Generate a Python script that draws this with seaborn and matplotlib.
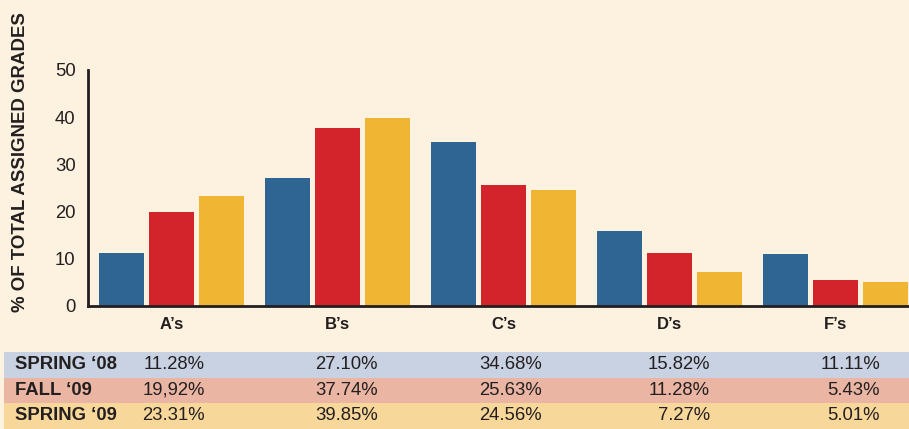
import pandas as pd
import matplotlib.pyplot as plt
import seaborn as sns
from matplotlib.patches import Rectangle

# chart data
grades = ["A’s", "B’s", "C’s", "D’s", "F’s"]
terms = ["SPRING ‘08", "FALL ‘09", "SPRING ‘09"]
spring08 = [11.28, 27.10, 34.68, 15.82, 11.11]
fall09 = [19.92, 37.74, 25.63, 11.28, 5.43]
spring09 = [23.31, 39.85, 24.56, 7.27, 5.01]

# table text as printed (note the comma in 19,92%)
spring08_txt = ["11.28%", "27.10%", "34.68%", "15.82%", "11.11%"]
fall09_txt = ["19,92%", "37.74%", "25.63%", "11.28%", "5.43%"]
spring09_txt = ["23.31%", "39.85%", "24.56%", "7.27%", "5.01%"]

bar_colors = ["#2F6592", "#D2242A", "#F0B533"]
row_colors = ["#C9D2E3", "#EBB5A3", "#F8D89A"]
bg = "#FDF2DF"
ink = "#231F20"

df = pd.DataFrame({
    "grade": grades * 3,
    "term": [t for t in terms for _ in grades],
    "pct": spring08 + fall09 + spring09,
})

sns.set_style("white")
plt.rcParams["font.family"] = ["Liberation Sans", "DejaVu Sans"]

W, H = 909, 429
fig = plt.figure(figsize=(W / 100, H / 100), dpi=100, facecolor=bg)
ax = fig.add_axes([88 / W, 1 - 306 / H, (W - 88) / W, (306 - 70) / H])
ax.set_facecolor(bg)

sns.barplot(data=df, x="grade", y="pct", hue="term", hue_order=terms,
            palette=bar_colors, width=0.904, gap=0.1, saturation=1,
            linewidth=0, legend=False, ax=ax)

ax.set_ylim(0, 50)
ax.set_xlim(-0.503, 4.443)
ax.set_yticks([0, 10, 20, 30, 40, 50])
ax.tick_params(axis="both", length=0, colors=ink)
ax.tick_params(axis="y", labelsize=13.3, pad=9)
ax.tick_params(axis="x", labelsize=12, pad=8)
for lab in ax.get_xticklabels():
    lab.set_fontweight("bold")
ax.set_xlabel("")
ax.set_ylabel("% OF TOTAL ASSIGNED GRADES", fontsize=13.4,
              fontweight="bold", color=ink)
ax.yaxis.set_label_coords(-59 / (W - 88), (306 - 162) / (306 - 70))
for s in ["top", "right"]:
    ax.spines[s].set_visible(False)
for s in ["left", "bottom"]:
    ax.spines[s].set_color(ink)
    ax.spines[s].set_linewidth(2)

# table under the chart
rows_txt = [spring08_txt, fall09_txt, spring09_txt]
row_tops = [352, 377.5, 403]
row_bottoms = [377.5, 403, 429]
right_x = [205, 378, 542, 710, 880]
for i, term in enumerate(terms):
    top, bot = row_tops[i], row_bottoms[i]
    fig.add_artist(Rectangle((4 / W, 1 - bot / H), (W - 4) / W, (bot - top) / H,
                             transform=fig.transFigure, facecolor=row_colors[i],
                             edgecolor="none"))
    yc = 1 - (top + bot) / 2 / H
    fig.text(15 / W, yc, term, fontsize=13.3, fontweight="bold", color=ink,
             va="center", ha="left")
    for x, txt in zip(right_x, rows_txt[i]):
        fig.text(x / W, yc, txt, fontsize=13.3, color=ink, va="center", ha="right")

fig.savefig("out.png", dpi=100, facecolor=bg)
